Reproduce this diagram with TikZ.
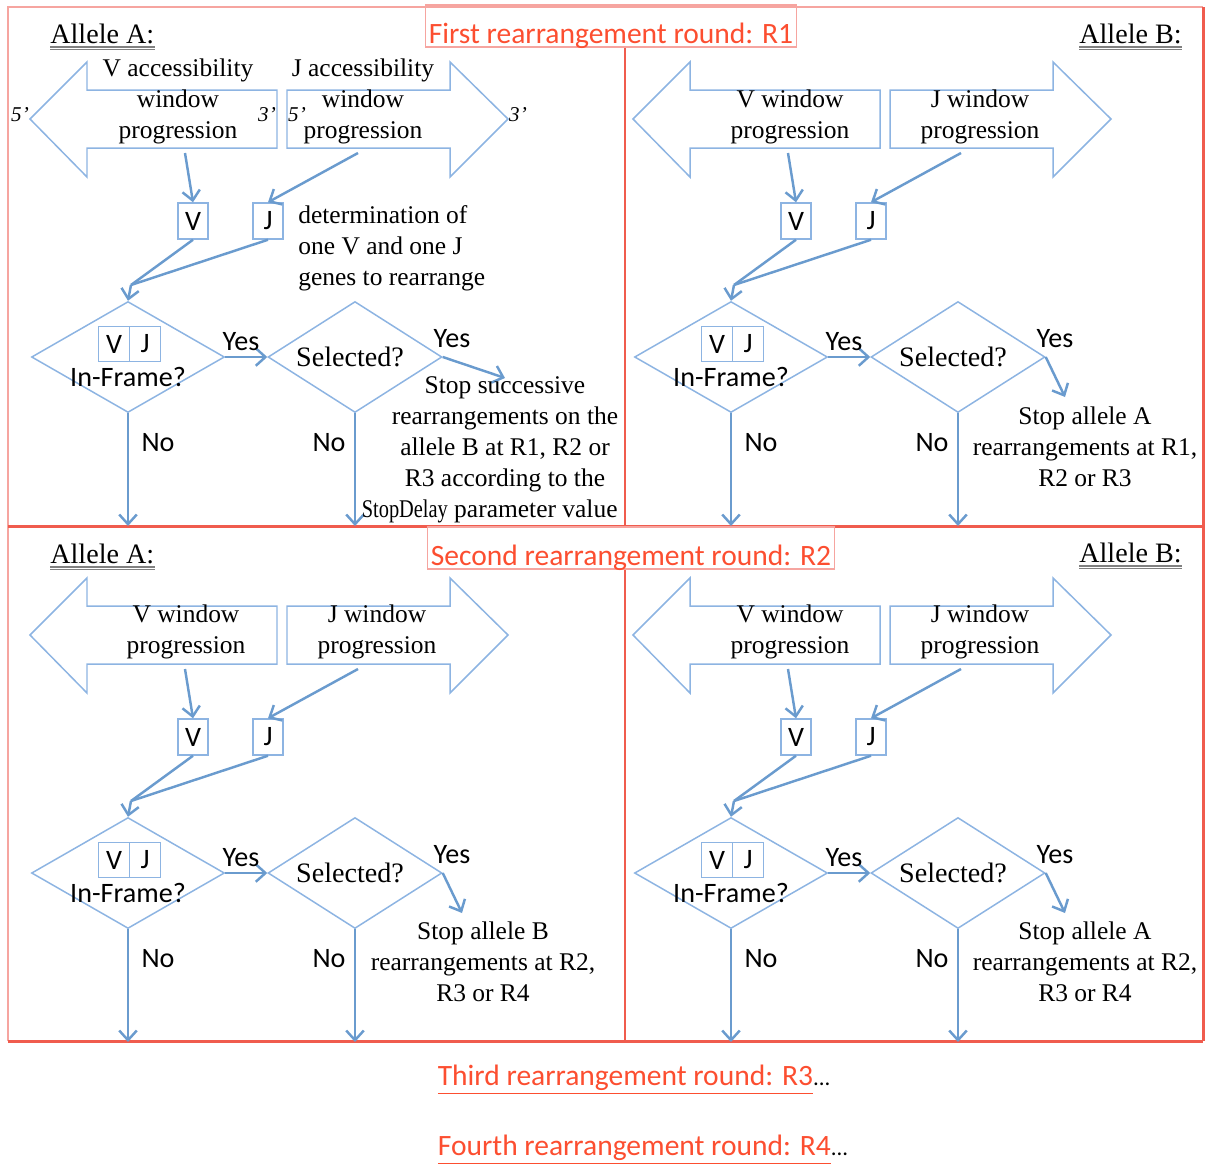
\documentclass[tikz,border=0pt]{standalone}
\usepackage{fontspec}
\setmainfont{Liberation Serif}
\newfontfamily\calibfont{Carlito}
\usetikzlibrary{arrows.meta, shapes.geometric}

\definecolor{lineblue}{RGB}{141,180,226}
\definecolor{flowblue}{RGB}{106,155,206}
\definecolor{framered}{RGB}{240,92,78}
\definecolor{palered}{RGB}{246,165,160}
\definecolor{titlered}{RGB}{252,78,48}

\begin{document}
\begin{tikzpicture}[x=0.02cm, y=-0.02cm,
    outline/.style={draw=lineblue, line width=0.85pt},
    flow/.style={draw=flowblue, line width=1.4pt, -{Straight Barb[length=5.5pt, width=10pt]}},
    merge/.style={draw=flowblue, line width=1.4pt},
    gene/.style={outline, minimum width=0.6cm, minimum height=0.72cm, inner sep=0pt,
                 font=\calibfont\fontsize{16}{19}\selectfont},
    decision/.style={outline, diamond, inner sep=0pt, minimum height=2.22cm},
    serif/.style={font=\fontsize{14.5}{17.6}\selectfont, align=center, inner sep=0pt},
    big/.style={font=\fontsize{16}{19}\selectfont, inner sep=0pt},
    sans/.style={font=\calibfont\fontsize{16}{19}\selectfont, inner sep=0pt},
    prime/.style={font=\itshape\fontsize{12}{14}\selectfont, inner sep=0pt},
    title/.style={draw=palered, line width=0.8pt, text=titlered,
                  font=\calibfont\fontsize{16.8}{19}\selectfont, inner ysep=0pt, inner xsep=2pt,
                  text height=22pt, text depth=2pt},
    later/.style={text=titlered, font=\calibfont\fontsize{16.8}{19}\selectfont, inner sep=2pt},
    frame/.style={draw=framered, line width=1.7pt},
    thinframe/.style={draw=palered, line width=0.8pt}
  ]
  \useasboundingbox (0,0) rectangle (1208,1164);

  % outer frame and rounds
  \draw[thinframe] (8,1041) -- (8,7) -- (1203,7);
  \draw[frame] (1203,7) -- (1203,1041);
  \draw[frame] (8,526) -- (1203,526);
  \draw[frame] (8,1041) -- (1203,1041);
  \coordinate (mid1) at (625,526);
  \coordinate (mid2) at (625,1041);
  \node[title] (round1) at (611,26) {First rearrangement round: R1};
  \node[title] (round2) at (631,548) {Second rearrangement round: R2};
  \draw[frame] (round1.south -| mid1) -- (mid1);
  \draw[frame] (round2.south -| mid2) -- (mid2);

  % one panel per allele and round
  \foreach \p/\dx/\dy/\sx/\sy in {a/0/0/505/378, b/603/0/462/397, c/0/516/462/397, d/603/516/462/397}{
    \begin{scope}[shift={(\dx,\dy)}]
      \draw[outline] (277,90) -- (87,90) -- (87,62) -- (30,119) -- (87,177) -- (87,148) -- (277,148) -- cycle;
      \draw[outline] (287,90) -- (450,90) -- (450,62) -- (508,119) -- (450,177) -- (450,148) -- (287,148) -- cycle;
      \coordinate (vw\p) at (185,153);
      \coordinate (jw\p) at (358,153);
      \node[gene] (V\p) at (193,221) {V};
      \node[gene] (J\p) at (268,221) {J};
      \coordinate (m\p) at (131,285);
      \node[decision, minimum width=3.86cm] (inf\p) at (128,357) {};
      \node[gene, minimum width=0.62cm, minimum height=0.7cm] (vv\p) at (114,344) {V};
      \node[gene, minimum width=0.62cm, minimum height=0.7cm] (jj\p) at (145,344) {J};
      \node[sans] (if\p) at (128,377) {In-Frame?};
      \node[decision, minimum width=3.48cm] (sel\p) at (355,357) {};
      \node[big] (seltxt\p) at (350,357) {Selected?};
      \coordinate (n1\p) at (128,526);
      \coordinate (n2\p) at (355,526);
      \coordinate (stop\p) at (\sx,\sy);
      \draw[flow] (vw\p) -- (V\p.north);
      \draw[flow] (jw\p) -- (J\p.north);
      \draw[merge] (V\p.south) -- (m\p);
      \draw[merge] (J\p.south) -- (m\p);
      \draw[flow] (m\p) -- (inf\p.north);
      \draw[flow] (inf\p.east) -- (sel\p.west);
      \draw[flow] (sel\p.east) -- (stop\p);
      \draw[flow] (inf\p.south) -- (n1\p);
      \draw[flow] (sel\p.south) -- (n2\p);
      \node[sans] (yes1\p) at (241,342) {Yes};
      \node[sans] (yes2\p) at (452,339) {Yes};
      \node[sans] (no1\p) at (158,443) {No};
      \node[sans] (no2\p) at (329,443) {No};
    \end{scope}
  }

  % allele labels
  \node[big, anchor=west] (alA1) at (50,34) {Allele A:};
  \node[big, anchor=east] (alB1) at (1182,34) {Allele B:};
  \node[big, anchor=west] (alA2) at (50,554) {Allele A:};
  \node[big, anchor=east] (alB2) at (1182,553) {Allele B:};
  \foreach \n in {alA1, alB1, alA2, alB2}{
    \draw[gray, line width=0.7pt] ([yshift=-1.5pt]\n.south west) -- ([yshift=-1.5pt]\n.south east);
    \draw[gray, line width=0.7pt] ([yshift=-2.8pt]\n.south west) -- ([yshift=-2.8pt]\n.south east);
  }

  % window texts
  \node[serif] (vwa) at (178,101) {V accessibility\\window\\progression};
  \node[serif] (jwa) at (363,101) {J accessibility\\window\\progression};
  \node[serif] (vwb) at (790,117) {V window\\progression};
  \node[serif] (jwb) at (980,117) {J window\\progression};
  \node[serif] (vwc) at (186,632) {V window\\progression};
  \node[serif] (jwc) at (377,632) {J window\\progression};
  \node[serif] (vwd) at (790,632) {V window\\progression};
  \node[serif] (jwd) at (980,632) {J window\\progression};
  \node[prime] (p5a) at (20,115) {5’};
  \node[prime] (p3a) at (267,115) {3’};
  \node[prime] (p5b) at (297,115) {5’};
  \node[prime] (p3b) at (518,115) {3’};
  \node[serif, anchor=west, align=left] (det) at (298,248) {determination of\\one V and one J\\genes to rearrange};

  % stop texts
  \node[serif] (stoptxta) at (505,450) {Stop successive\\rearrangements on the\\allele B at R1, R2 or\\R3 according to the\\\hspace*{-1.2em}\scalebox{0.8}[1]{StopDelay} parameter value};
  \node[serif] (stoptxtb) at (1085,447) {Stop allele A\\rearrangements at R1,\\R2 or R3};
  \node[serif] (stoptxtc) at (483,962) {Stop allele B\\rearrangements at R2,\\R3 or R4};
  \node[serif] (stoptxtd) at (1085,962) {Stop allele A\\rearrangements at R2,\\R3 or R4};

  % later rounds
  \node[later, anchor=west] (round3) at (434,1080) {\underline{Third rearrangement round: R3}\textcolor{black}{\fontsize{13}{14}\selectfont...}};
  \node[later, anchor=west] (round4) at (434,1150) {\underline{Fourth rearrangement round: R4}\textcolor{black}{\fontsize{13}{14}\selectfont...}};
\end{tikzpicture}
\end{document}
